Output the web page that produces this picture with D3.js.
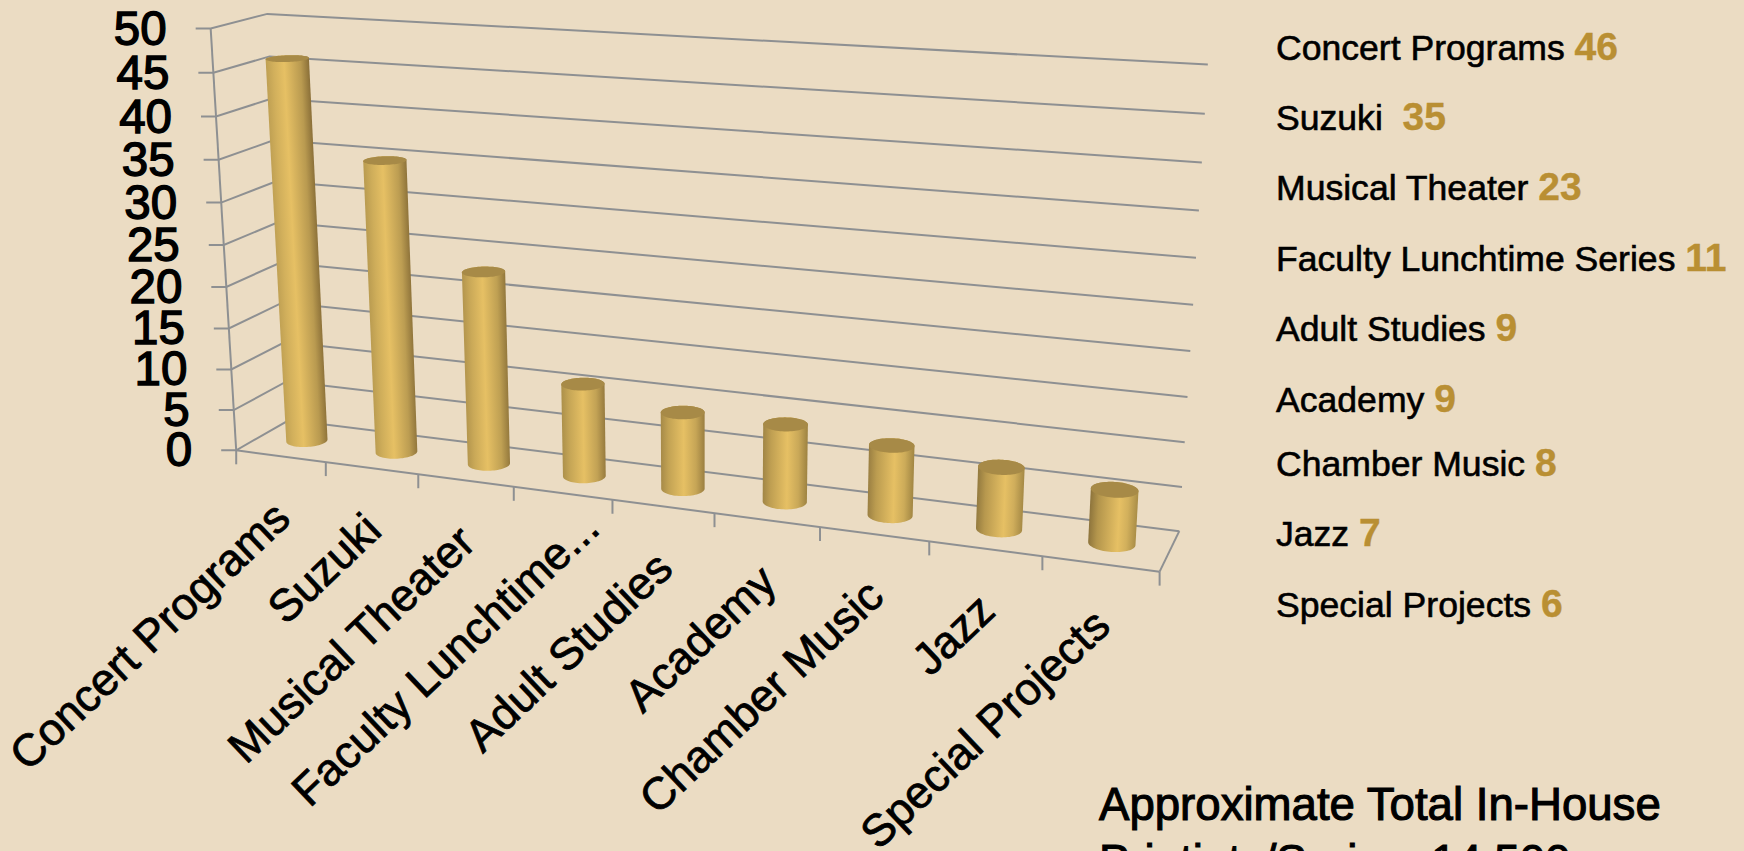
<!DOCTYPE html>
<html>
<head>
<meta charset="utf-8">
<script src="https://cdn.jsdelivr.net/npm/d3@7/dist/d3.min.js"></script>
<style>
html,body{margin:0;padding:0;background:#ebdcc3;overflow:hidden}
svg{display:block}
text{font-family:"Liberation Sans",Arial,sans-serif;white-space:pre}
</style>
</head>
<body>
<svg id="chart" width="1744" height="851"></svg>
<script>
// Performance counts per program
const categories = ["Concert Programs","Suzuki","Musical Theater","Faculty Lunchtime Series","Adult Studies","Academy","Chamber Music","Jazz","Special Projects"];
const axisLabels = ["Concert Programs","Suzuki","Musical Theater","Faculty Lunchtime...","Adult Studies","Academy","Chamber Music","Jazz","Special Projects"];
const values = [46,35,23,11,9,9,8,7,6];
const listSeparators = [" ","  "," "," "," "," "," "," "," "];
const listBaselines = [60,130,200,271,341,412,476,546,617];
const noteLines = ["Approximate Total In-House","Printints/Series: 14,500"];

const GRID = "#8e9092", BG = "#ebdcc3";

// Camera fit: [u, v, w] in the unit box -> screen position.
// u runs along the categories, v up the value axis, w from the front edge to the back wall.
const frame = [
  [[0,0,0],[236,450]],[[0,1,0],[211,29]],[[0,.5,0],[224,245]],
  [[0,1,1],[267,14]],[[0,.5,1],[278,221]],[[0,0,1],[290,421]],
  [[1,1,1],[1207,64.5]],[[1,.5,1],[1195,305]],[[1,0,1],[1178,531]],
  [[1,0,0],[1160,572]],[[5/9,0,0],[715,513]],[[1/9,0,0],[325,462]],[[8/9,0,0],[1042,556]]
];
function fitCamera(pairs){
  const n = 11, A = d3.range(n).map(()=>new Array(n+1).fill(0));
  const add = (row,rhs)=>{
    for(let i=0;i<n;i++){
      for(let j=0;j<n;j++) A[i][j]+=row[i]*row[j];
      A[i][n]+=row[i]*rhs;
    }
  };
  pairs.forEach(([[u,v,w],[x,y]])=>{
    add([u,v,w,1,0,0,0,0,-x*u,-x*v,-x*w],x);
    add([0,0,0,0,u,v,w,1,-y*u,-y*v,-y*w],y);
  });
  for(let c=0;c<n;c++){
    let p=c;
    for(let r=c+1;r<n;r++) if(Math.abs(A[r][c])>Math.abs(A[p][c])) p=r;
    [A[c],A[p]]=[A[p],A[c]];
    for(let r=0;r<n;r++){
      if(r===c) continue;
      const f=A[r][c]/A[c][c];
      for(let k=c;k<=n;k++) A[r][k]-=f*A[c][k];
    }
  }
  return A.map((row,i)=>row[n]/row[i]);
}
const m = fitCamera(frame);
const project = (u,v,w)=>{
  const d = m[8]*u+m[9]*v+m[10]*w+1;
  return [(m[0]*u+m[1]*v+m[2]*w+m[3])/d,(m[4]*u+m[5]*v+m[6]*w+m[7])/d];
};

const xBand = d3.scaleBand().domain(categories).range([0,1]);
const yVal = d3.scaleLinear().domain([0,50]).range([0,1]);

const svg = d3.select("#chart");
svg.append("rect").attr("width",1744).attr("height",851).attr("fill",BG);
const defs = svg.append("defs");

// Walls, floor and axis lines
const grid = svg.append("g").attr("stroke",GRID).attr("stroke-width",2).attr("fill","none");
const seg = (a,b)=>grid.append("line").attr("x1",a[0]).attr("y1",a[1]).attr("x2",b[0]).attr("y2",b[1]);
const yTicks = yVal.ticks(10);
yTicks.forEach(t=>{
  const v=yVal(t), a=project(0,v,0), b=project(0,v,1), c=project(1,v,1);
  grid.append("path").attr("d",d3.line()([[a[0]-15,a[1]],a,b,c]));
});
seg(project(0,0,0),project(0,1,0));
seg(project(0,0,0),project(1,0,0));
seg(project(1,0,0),project(1,0,1));
xBand.domain().concat(null).forEach((c,i)=>{
  const p=project(i/categories.length,0,0);
  seg(p,[p[0],p[1]+14]);
});

// Value axis labels
svg.append("g").selectAll("text").data(yTicks).join("text")
  .attr("x",t=>project(0,yVal(t),0)[0]-44)
  .attr("y",t=>project(0,yVal(t),0)[1]+16)
  .attr("text-anchor","end").attr("font-size",47.5).attr("fill","#000")
  .attr("stroke","#000").attr("stroke-width",1.4)
  .text(t=>t);

// Cylinders
const RU = 0.0225, RW = 0.2, WC = 0.5;
const ring = (uc,v)=>d3.range(72).map(i=>{
  const a=i/72*2*Math.PI;
  return project(uc+RU*Math.cos(a),v,WC+RW*Math.sin(a));
});
const mix = (a,b,t)=>d3.interpolateRgb(a,b)(t);
const bars = svg.append("g");
categories.forEach((c,i)=>{
  const uc = xBand(c)+xBand.bandwidth()/2, t = i/(categories.length-1);
  const top = ring(uc,yVal(values[i])), bot = ring(uc,0);
  const hull = d3.polygonHull(top.concat(bot));
  const T = d3.polygonCentroid(top), B = d3.polygonCentroid(bot);
  const L = Math.hypot(B[0]-T[0],B[1]-T[1]);
  const nx = (B[1]-T[1])/L, ny = -(B[0]-T[0])/L;
  const off = hull.map(p=>(p[0]-T[0])*nx+(p[1]-T[1])*ny);
  const lo = d3.min(off), hi = d3.max(off);
  const id = "cyl"+i;
  const g = defs.append("linearGradient").attr("id",id).attr("gradientUnits","userSpaceOnUse")
    .attr("x1",T[0]+nx*lo).attr("y1",T[1]+ny*lo).attr("x2",T[0]+nx*hi).attr("y2",T[1]+ny*hi);
  [[0,mix("#bfa053","#8d743c",t)],[.18,mix("#d2b05c","#b3954c",t)],[.42+.2*t,"#e6c064"],
   [.8,mix("#b99a50","#d2b05c",t)],[1,mix("#8a6f38","#a98d47",t)]]
    .forEach(([o,col])=>g.append("stop").attr("offset",o).attr("stop-color",col));
  bars.append("path").attr("d",d3.line()(hull)+"Z").attr("fill",`url(#${id})`);
  bars.append("path").attr("d",d3.line()(top)+"Z").attr("fill","#a78a47");
});

// Category labels, slanted under the floor edge; a shortened label sits closer to the edge
svg.append("g").selectAll("text").data(axisLabels).join("text")
  .attr("transform",(d,i)=>{
    const p=project((i+.5)/categories.length,0,0);
    const lift = d.endsWith("...") ? 27 : 0;
    return `translate(${p[0]+12+lift},${p[1]+65-lift}) rotate(-43.5)`;
  })
  .attr("text-anchor","end").attr("font-size",45).attr("fill","#000")
  .attr("stroke","#000").attr("stroke-width",.8)
  .text(d=>d);

// Program list with counts
const list = svg.append("g").selectAll("text").data(categories).join("text")
  .attr("x",1276).attr("y",(d,i)=>listBaselines[i]).attr("font-size",35.6);
list.append("tspan").attr("fill","#000").attr("stroke","#000").attr("stroke-width",.6)
  .text((d,i)=>d+listSeparators[i]);
list.append("tspan").attr("fill","#b98f33").attr("stroke","#b98f33").attr("stroke-width",.4)
  .attr("font-weight","bold").attr("font-size",39)
  .text((d,i)=>values[i]);

// Season total note; the second line runs past the bottom of the page
svg.append("g").selectAll("text").data(noteLines).join("text")
  .attr("x",1099).attr("y",(d,i)=>820+i*57)
  .attr("font-size",45.6).attr("fill","#000").attr("stroke","#000").attr("stroke-width",1.1)
  .text(d=>d);
</script>
</body>
</html>
